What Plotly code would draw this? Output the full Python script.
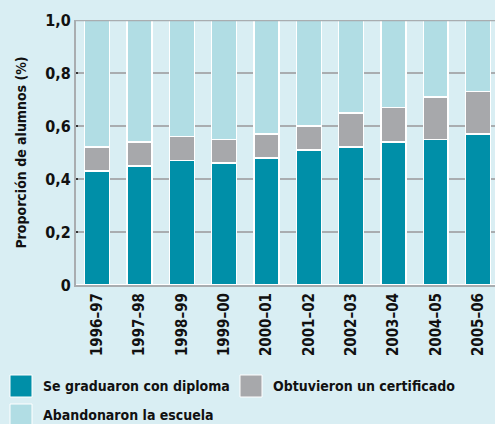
import plotly.graph_objects as go

# ---- data ----
years = ["1996–97", "1997–98", "1998–99", "1999–00", "2000–01",
         "2001–02", "2002–03", "2003–04", "2004–05", "2005–06"]
diploma = [0.43, 0.45, 0.47, 0.46, 0.48, 0.51, 0.52, 0.54, 0.55, 0.57]
certificado = [0.09, 0.09, 0.09, 0.09, 0.09, 0.09, 0.13, 0.13, 0.16, 0.16]
abandono = [round(1 - d - c, 2) for d, c in zip(diploma, certificado)]
series_names = ["Se graduaron con diploma", "Obtuvieron un certificado", "Abandonaron la escuela"]
ytick_vals = [0, 0.2, 0.4, 0.6, 0.8, 1.0]
ytick_text = ["0", "0,2", "0,4", "0,6", "0,8", "1,0"]

# ---- style ----
BG = "#d9eef3"
TEAL = "#008fa8"
GREY = "#a7a8ab"
LIGHT = "#b1dde4"
LINE = "#a9adb0"
FONT = "DejaVu Sans Condensed, Roboto, sans-serif"
W, H = 495, 424
L, R, T, B = 76, 0, 20, 139
pw, ph = W - L - R, H - T - B

def px(x):
    return (x - L) / pw

def py(y):
    return (H - B - y) / ph

xs = list(range(len(years)))
fig = go.Figure()
for name, vals, col in zip(series_names, [diploma, certificado, abandono], [TEAL, GREY, LIGHT]):
    fig.add_trace(go.Bar(x=xs, y=vals, name=name, marker=dict(color=col, line=dict(color="white", width=1.5)),
                         showlegend=False))

fig.update_layout(
    barmode="stack", bargap=0.41,
    width=W, height=H,
    margin=dict(l=L, r=R, t=T, b=B),
    paper_bgcolor=BG, plot_bgcolor=BG,
    font=dict(family=FONT, size=15, color="#111"),
    xaxis=dict(tickvals=xs, ticktext=years, tickangle=-90, range=[-0.5, 9.4],
               showline=True, linecolor=LINE, linewidth=2, showgrid=False,
               ticks="", tickfont=dict(family=FONT, size=15, weight="bold")),
    yaxis=dict(range=[0, 1.0], tickvals=ytick_vals, ticktext=ytick_text,
               showline=True, linecolor=LINE, linewidth=2,
               showgrid=True, gridcolor=LINE, gridwidth=1.5,
               ticks="inside", ticklen=2, tickwidth=2, tickcolor="#333",
               tickfont=dict(family=FONT, size=16, weight="bold"),
               title=dict(text="Proporción de alumnos (%)", standoff=15,
                          font=dict(family=FONT, size=14, weight="bold"))),
)

# top border line at 1.0
fig.add_shape(type="line", xref="paper", yref="y", x0=0, x1=1, y0=1.0, y1=1.0,
              line=dict(color=LINE, width=2.5), layer="above")

# manual legend
legend_items = [(series_names[0], TEAL, 10, 375), (series_names[1], GREY, 240, 375),
                (series_names[2], LIGHT, 10, 404)]
for name, col, x0, y0 in legend_items:
    fig.add_shape(type="rect", xref="paper", yref="paper",
                  x0=px(x0), x1=px(x0 + 22), y0=py(y0 + 22), y1=py(y0),
                  fillcolor=col, line=dict(color="white", width=1))
    fig.add_annotation(xref="paper", yref="paper", x=px(x0 + 31), y=py(y0 + 11),
                       text=name, showarrow=False, xanchor="left", yanchor="middle",
                       font=dict(family=FONT, size=14, weight="bold", color="#111"))

fig.write_html("out.html")
